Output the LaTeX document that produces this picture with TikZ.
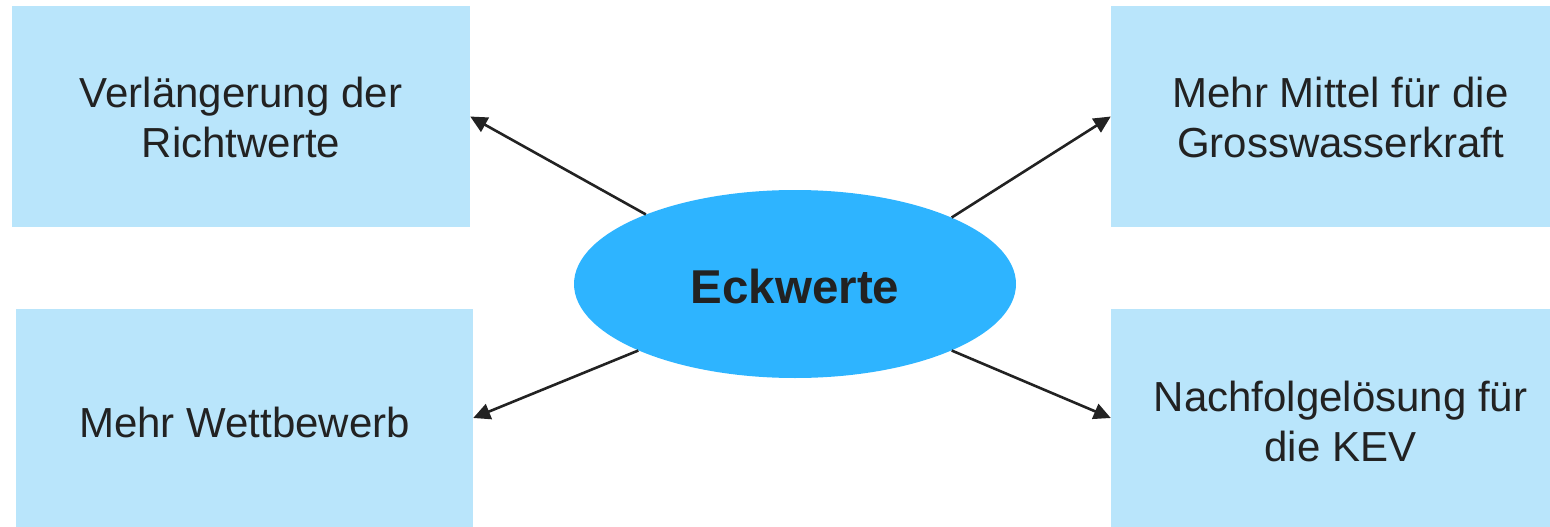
\documentclass[tikz,border=0pt]{standalone}
\usepackage{fontspec}
\setmainfont{Liberation Sans}
\usetikzlibrary{arrows.meta,shapes.geometric}
\definecolor{boxfill}{HTML}{B9E5FB}
\definecolor{ellfill}{HTML}{2EB4FF}
\definecolor{ink}{HTML}{222222}
\tikzset{
  topicbox/.style={rectangle, fill=boxfill, draw=none, inner sep=0pt},
  topictext/.style={align=center, text=ink, inner sep=0pt, font=\fontsize{42}{50}\selectfont},
  hub/.style={ellipse, fill=ellfill, draw=none, inner sep=0pt},
  hubtext/.style={text=ink, inner sep=0pt, font=\fontsize{47.5}{56}\selectfont\bfseries},
  link/.style={draw=ink, line width=2.6pt, -{Triangle[length=17pt,width=16pt]}}
}
\begin{document}
\begin{tikzpicture}[x=1pt,y=-1pt]
\useasboundingbox (0,0) rectangle (1550,527);
\node[topicbox, minimum width=458pt, minimum height=221pt,
  label={[topictext, yshift=-1pt]center:Verlängerung der\\Richtwerte}] (tl) at (241,116.5) {};
\node[topicbox, minimum width=457pt, minimum height=218pt,
  label={[topictext, yshift=-4pt]center:Mehr Wettbewerb}] (bl) at (244.5,418) {};
\node[topicbox, minimum width=439pt, minimum height=221pt,
  label={[topictext, xshift=10pt, yshift=-1pt]center:Mehr Mittel für die\\Grosswasserkraft}] (tr) at (1330.5,116.5) {};
\node[topicbox, minimum width=439pt, minimum height=218pt,
  label={[topictext, xshift=10pt, yshift=-3.5pt]center:Nachfolgelösung für\\die KEV}] (br) at (1330.5,418) {};
\node[hub, minimum width=442pt, minimum height=188pt,
  label={[hubtext, yshift=-3pt]center:Eckwerte}] (hub) at (795,284) {};
\draw[link] (hub.155.9) -- (tl.east);
\draw[link] (hub.23.6) -- (tr.west);
\draw[link] (hub.203.1) -- (bl.east);
\draw[link] (hub.-23.2) -- (br.west);
\end{tikzpicture}
\end{document}
